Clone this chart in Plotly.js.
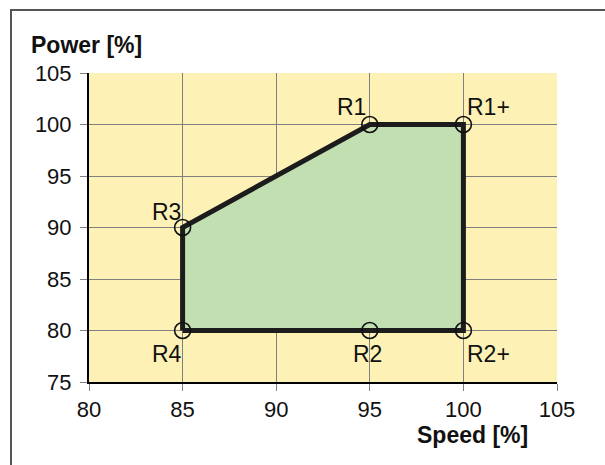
<!DOCTYPE html>
<html>
<head>
<meta charset="utf-8">
<script src="https://cdn.plot.ly/plotly-3.0.1.min.js"></script>
<style>
html,body{margin:0;padding:0;background:#fff;}
#chart{width:605px;height:465px;}
</style>
</head>
<body>
<div id="chart"></div>
<script>
// Operating envelope polygon (Speed %, Power %)
const envSpeed = [85, 85, 95, 100, 100, 85];
const envPower = [80, 90, 100, 100, 80, 80];

// Rating points
const ptLabels = ["R1", "R1+", "R2", "R2+", "R3", "R4"];
const ptSpeed  = [95, 100, 95, 100, 85, 85];
const ptPower  = [100, 100, 80, 80, 90, 80];

// Axis ticks
const xTicks = [80, 85, 90, 95, 100, 105];
const yTicks = [75, 80, 85, 90, 95, 100, 105];

const xTitle = "Speed [%]";
const yTitle = "Power [%]";

// label placement (style only)
const labelPos = {
  "R1":  {xa: "right", ya: "bottom", xs: -2, ys: 3},
  "R1+": {xa: "left",  ya: "bottom", xs: 2,  ys: 3},
  "R2":  {xa: "center",ya: "top",    xs: -2, ys: -8},
  "R2+": {xa: "left",  ya: "top",    xs: 2,  ys: -8},
  "R3":  {xa: "right", ya: "bottom", xs: 0,  ys: 1},
  "R4":  {xa: "right", ya: "top",    xs: 1,  ys: -8}
};

const W = 605, H = 465;
const M = {l: 89, r: 48, t: 73, b: 83};
const pw = W - M.l - M.r, ph = H - M.t - M.b;
const px = p => (p - M.l) / pw;
const py = p => (H - M.b - p) / ph;

const traces = [
  {
    x: envSpeed, y: envPower, type: "scatter", mode: "lines",
    fill: "toself", fillcolor: "#c2dfb2",
    line: {color: "#1c1c1c", width: 5},
    hoverinfo: "skip", showlegend: false
  },
  {
    x: ptSpeed, y: ptPower, type: "scatter", mode: "markers",
    marker: {symbol: "circle-open", size: 16, color: "#111", line: {width: 1.6, color: "#111"}},
    showlegend: false
  }
];

const font = "Liberation Sans, Arial, Helvetica, sans-serif";

const annotations = ptLabels.map((t, i) => {
  const p = labelPos[t];
  return {
    x: ptSpeed[i], y: ptPower[i], xref: "x", yref: "y", text: t,
    showarrow: false, xanchor: p.xa, yanchor: p.ya, xshift: p.xs, yshift: p.ys,
    font: {family: font, size: 23, color: "#111"}
  };
});
annotations.push({
  x: px(29), y: py(45), xref: "paper", yref: "paper", text: "<b>" + yTitle + "</b>",
  showarrow: false, xanchor: "left", yanchor: "middle",
  font: {family: font, size: 23, color: "#111"}
});
annotations.push({
  x: px(530), y: py(435), xref: "paper", yref: "paper", text: "<b>" + xTitle + "</b>",
  showarrow: false, xanchor: "right", yanchor: "middle",
  font: {family: font, size: 23, color: "#111"}
});

const shapes = [
  {type: "line", xref: "paper", yref: "paper", x0: px(11), x1: px(11), y0: py(9), y1: py(470),
   line: {color: "#555", width: 2}},
  {type: "line", xref: "paper", yref: "paper", x0: px(10), x1: px(610), y0: py(10), y1: py(10),
   line: {color: "#555", width: 2}}
];

const axisCommon = {
  showgrid: true, gridcolor: "#808080", gridwidth: 1,
  zeroline: false, showline: true, linecolor: "#000", linewidth: 2, mirror: false,
  ticks: "outside", ticklen: 7, tickcolor: "#808080", tickwidth: 1,
  tickfont: {family: font, size: 22, color: "#111"}, fixedrange: true
};

const layout = {
  width: W, height: H,
  margin: M,
  paper_bgcolor: "#ffffff",
  plot_bgcolor: "#fdf1b6",
  xaxis: Object.assign({}, axisCommon, {range: [80, 105], tickvals: xTicks, ticktext: xTicks.map(String), ticklabelstandoff: 0}),
  yaxis: Object.assign({}, axisCommon, {range: [75, 105], tickvals: yTicks, ticktext: yTicks.map(String), ticklabelstandoff: 4}),
  annotations: annotations,
  shapes: shapes,
  showlegend: false
};

Plotly.newPlot("chart", traces, layout, {displayModeBar: false, staticPlot: true});
</script>
</body>
</html>
